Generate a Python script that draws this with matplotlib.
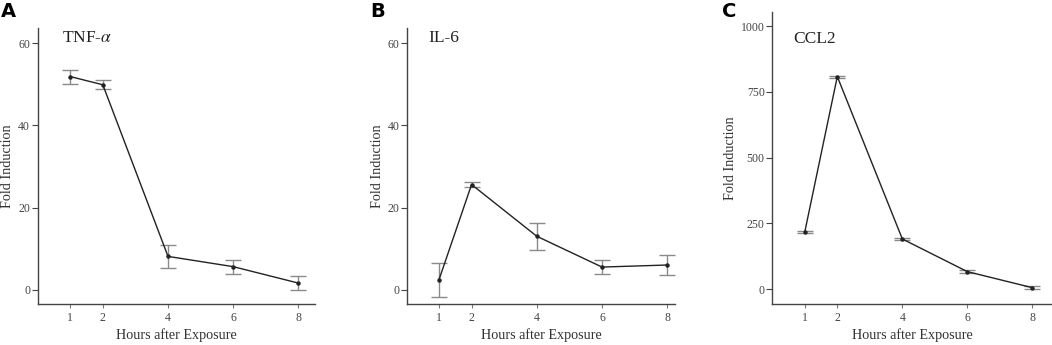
import matplotlib
matplotlib.use("Agg")
import matplotlib.pyplot as plt

# time points (hours after exposure)
hours = [1, 2, 4, 6, 8]

# fold induction, mean and error
tnf_mean = [51.9, 49.9, 8.1, 5.6, 1.6]
tnf_err = [1.7, 1.1, 2.8, 1.7, 1.7]

il6_mean = [2.4, 25.6, 13.0, 5.5, 6.0]
il6_err = [4.2, 0.6, 3.3, 1.7, 2.4]

ccl2_mean = [218, 808, 191, 67, 6]
ccl2_err = [5, 4, 5, 5, 5]

panel_letters = ["A", "B", "C"]
titles = ["TNF-$\\alpha$", "IL-6", "CCL2"]

plt.rcParams["font.family"] = ["Liberation Serif", "DejaVu Serif"]
plt.rcParams["mathtext.fontset"] = "stix"

fig = plt.figure(figsize=(10.52, 3.45), dpi=100)

# axes boxes in figure fraction [left, bottom, width, height]
boxes = [
    [0.0358, 0.1188, 0.2636, 0.8009],
    [0.3872, 0.1188, 0.2545, 0.8009],
    [0.7341, 0.1188, 0.2655, 0.8455],
]
xlims = [(0.0, 8.51), (0.03, 8.24), (0.0, 8.59)]
ylims = [(-3.5, 63.8), (-3.5, 63.8), (-56, 1052)]
yticks = [[0, 20, 40, 60], [0, 20, 40, 60], [0, 250, 500, 750, 1000]]
data = [(tnf_mean, tnf_err), (il6_mean, il6_err), (ccl2_mean, ccl2_err)]
letter_x = [0.001, 0.352, 0.686]
title_pos = [(0.088, 0.962), (0.077, 0.962), (0.075, 0.91)]

spine_col = "#444444"
for i in range(3):
    ax = fig.add_axes(boxes[i])
    m, e = data[i]
    ax.errorbar(hours, m, yerr=e, color="#222222", lw=1.0, marker="o", ms=2.2,
                ecolor="#8a8a8a", elinewidth=1.0, capsize=6, capthick=1.0, zorder=3)
    ax.set_xlim(*xlims[i])
    ax.set_ylim(*ylims[i])
    ax.set_xticks(hours)
    ax.set_yticks(yticks[i])
    for s in ["top", "right"]:
        ax.spines[s].set_visible(False)
    for s in ["left", "bottom"]:
        ax.spines[s].set_color(spine_col)
        ax.spines[s].set_linewidth(1.0)
    ax.tick_params(axis="y", direction="out", length=4, width=0.8, color=spine_col,
                   labelsize=8.5, labelcolor="#444444", pad=1.5)
    ax.tick_params(axis="x", direction="out", length=3, width=0.8, color="#777777",
                   labelsize=8.5, labelcolor="#444444", pad=3)
    ax.set_ylabel("Fold Induction", fontsize=10.2, color="#333333", labelpad=3)
    ax.set_xlabel("Hours after Exposure", fontsize=10.2, color="#333333", labelpad=3)
    ax.text(title_pos[i][0], title_pos[i][1], titles[i], transform=ax.transAxes,
            fontsize=12.5, color="#222222", ha="left", va="center")
    fig.text(letter_x[i], 0.995, panel_letters[i], fontsize=14, fontweight="bold",
             family="DejaVu Sans", ha="left", va="top")

fig.savefig("out.png", dpi=100)
